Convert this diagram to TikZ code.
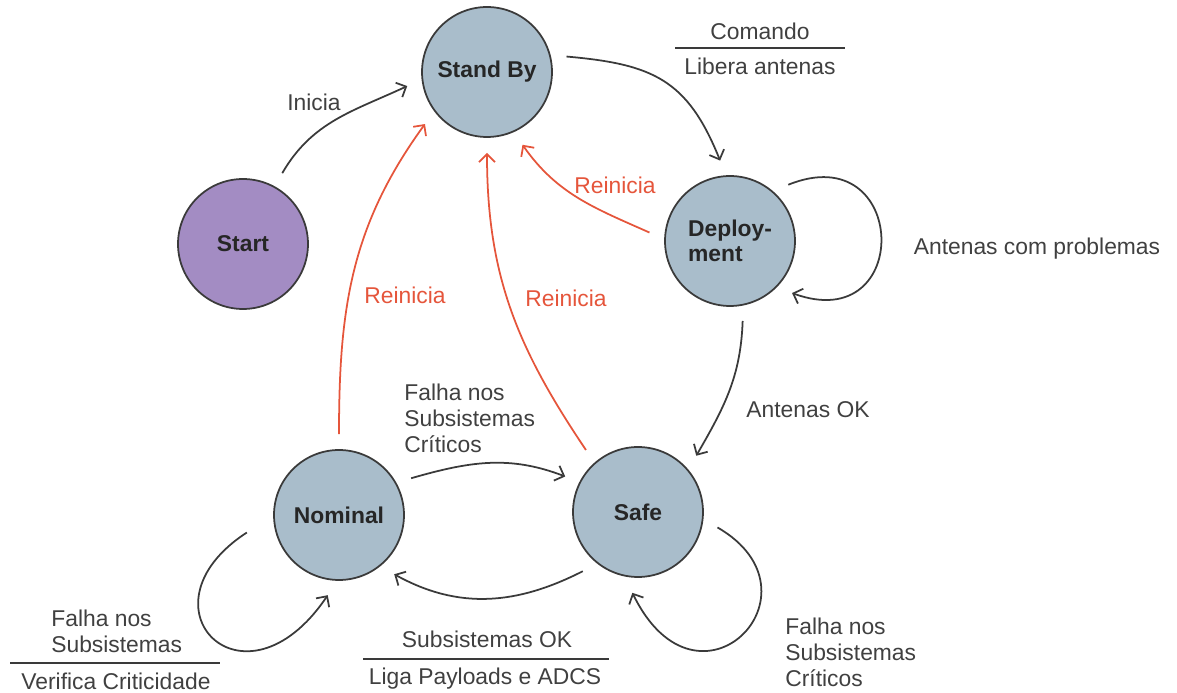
\documentclass[tikz,border=0pt]{standalone}
\usepackage{fontspec}
\setmainfont{Liberation Sans}
\usetikzlibrary{arrows.meta, positioning, calc}

\definecolor{stateblue}{HTML}{A9BDCB}
\definecolor{startpurple}{HTML}{A38CC3}
\definecolor{linegray}{HTML}{3A3A3A}
\definecolor{textgray}{HTML}{404040}
\definecolor{resetred}{HTML}{E5553B}

\begin{document}
\begin{tikzpicture}[x=0.02cm, y=0.02cm,
  every node/.style={font=\fontsize{13}{14.8}\selectfont, text=textgray},
  state/.style={circle, draw=linegray, line width=1pt, fill=stateblue,
    minimum size=2.6cm, outer sep=0.32cm, text=black!85,
    font=\fontsize{13}{14.2}\selectfont\bfseries},
  trans/.style={draw=linegray, line width=1pt,
    -{Straight Barb[length=4.5pt,width=9pt]}},
  reset/.style={trans, draw=resetred},
  lbl/.style={inner sep=0pt},
  rstlbl/.style={lbl, text=resetred},
  rule/.style={draw=linegray, line width=0.8pt}]
\useasboundingbox (0,0) rectangle (1177,693);

% states
\node[state, fill=startpurple] (start) at (243,449) {Start};
\node[state] (standby) at (487,621) {Stand By};
\node[state, align=left] (deploy) at (730,452) {Deploy-\\ment};
\node[state] (nominal) at (339,178) {Nominal};
\node[state] (safe) at (638,181) {Safe};

% transitions
\draw[trans] (start.61) to[out=60,in=205] (standby.190);
\draw[trans] (standby.11) to[out=-5,in=112,looseness=1.2] (deploy.97);
\draw[trans] (deploy.44) .. controls +(22:130) and +(-20:130) .. (deploy.-40);
\draw[trans] (deploy.-81) to[out=-92,in=60] (safe.44);
\draw[trans] (nominal.27) to[out=16,in=159] (safe.154);
\draw[trans] (safe.227) to[out=207,in=-29] (nominal.-47);
\draw[trans, shorten <=0.28cm] (nominal.187) .. controls +(213:150) and +(-124:150) .. (nominal.-98);
\draw[trans] (safe.-11) .. controls +(-30:130) and +(-64:150) .. (safe.266);

% resets
\draw[reset] (nominal.90) to[out=90,in=234] (standby.220);
\draw[reset] (safe.130) to[out=124,in=-90] (standby.270);
\draw[reset] (deploy.174) to[out=156,in=-55] (standby.-64);

% labels
\node[lbl, anchor=base] (inicia) at (314,582) {Inicia};
\node[lbl, anchor=base] (comando) at (760,653) {Comando};
\node[lbl, anchor=base] (libera) at (760,618) {Libera antenas};
\draw[rule] (675,645) -- (845,645);
\node[lbl, anchor=base] (antprob) at (1037,438) {Antenas com problemas};
\node[lbl, anchor=base] (antok) at (808,275) {Antenas OK};
\node[rstlbl, anchor=base] (rstnom) at (405,389) {Reinicia};
\node[rstlbl, anchor=base] (rstsafe) at (566,386) {Reinicia};
\node[rstlbl, anchor=base] (rstdep) at (615,499) {Reinicia};
\node[lbl, align=left, anchor=west] (falhacrit) at (404,275) {Falha nos\\Subsistemas\\Críticos};
\node[lbl, anchor=base] (subok) at (487,45) {Subsistemas OK};
\node[lbl, anchor=base] (liga) at (485,8) {Liga Payloads e ADCS};
\draw[rule] (363,34) -- (609,34);
\node[lbl, align=left, anchor=west] (falhanom) at (51,62) {Falha nos\\Subsistemas};
\node[lbl, anchor=base] (verifica) at (116,3) {Verifica Criticidade};
\draw[rule] (10,30) -- (220,30);
\node[lbl, align=left, anchor=west] (falhasafe) at (785,41) {Falha nos\\Subsistemas\\Críticos};
\end{tikzpicture}
\end{document}
